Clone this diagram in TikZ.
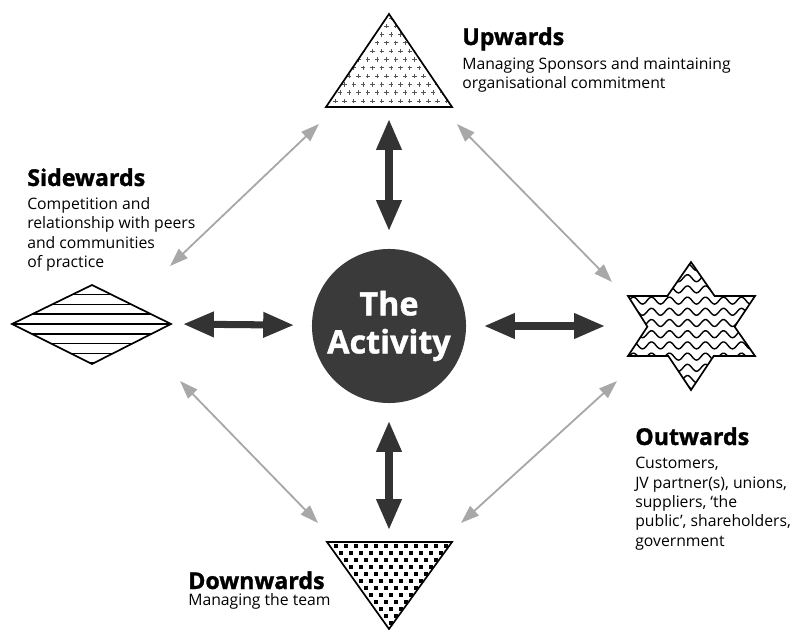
\documentclass[tikz,border=0pt]{standalone}
\usepackage{fontspec}
\setmainfont{Open Sans}[BoldFeatures={FakeBold=1.2}]
\usetikzlibrary{arrows.meta,positioning}
\definecolor{darkarr}{HTML}{333333}
\definecolor{actfill}{HTML}{3A3A3A}
\definecolor{lightarr}{HTML}{A8A8A8}
\definecolor{plusgray}{HTML}{555555}
\tikzset{
  shapeline/.style={line width=1.2pt, line join=miter},
  bigarr/.style={darkarr, line width=5pt, {Triangle[length=22pt,width=17pt]}-{Triangle[length=22pt,width=17pt]}, shorten <=12.5pt, shorten >=8.5pt},
  thinarr/.style={lightarr, line width=1.3pt, {Triangle[length=13pt,width=9pt]}-{Triangle[length=13pt,width=9pt]}},
  headtext/.style={font=\fontsize{16.5}{20}\selectfont\bfseries, anchor=base west, inner sep=0pt},
  bodytext/.style={font=\fontsize{11.2}{13.8}\selectfont, align=left, anchor=north west, inner sep=0pt},
}
\begin{document}
\begin{tikzpicture}[x=0.025cm, y=-0.025cm]
                \useasboundingbox (0,0) rectangle (790,630);
                \begin{scope}
                  \clip (326,107) -- (452,107) -- (389,14) -- cycle;
                  \foreach \j in {0,...,11} \foreach \i in {0,...,14}
                    \draw [plusgray, line width=0.6pt] ({326+9.3*\i+4.65*mod(\j,2)-2.2}, {18+8.3*\j}) -- ++(4.4,0) ({326+9.3*\i+4.65*mod(\j,2)}, {18+8.3*\j-2.2}) -- ++(0,4.4);
                \end{scope}
                \draw [shapeline] (326,107) -- (452,107) -- (389,14) -- cycle;
                \begin{scope}
                  \clip (12,324) -- (92,285) -- (171,324) -- (92,364) -- cycle;
                  \foreach \k in {-4,...,4}
                    \draw [line width=1.1pt] (0,{324+9.8*\k}) -- (190,{324+9.8*\k});
                \end{scope}
                \draw [shapeline] (12,324) -- (92,285) -- (171,324) -- (92,364) -- cycle;
                \begin{scope}
                  \clip (691,262) -- (714.6,296) -- (755,296) -- (734.6,326.7) -- (755,356) -- (713.7,356) -- (691,390) -- (668.3,356) -- (628,356) -- (647.4,326.7) -- (628,296) -- (667.4,296) -- cycle;
                  \foreach \k in {0,...,11}
                    \draw [line width=1pt] plot [domain=0:145, samples=90, smooth] ({620+\x}, {267+11.2*\k+3.5*sin(20*\x)});
                \end{scope}
                \draw [shapeline] (691,262) -- (714.6,296) -- (755,296) -- (734.6,326.7) -- (755,356) -- (713.7,356) -- (691,390) -- (668.3,356) -- (628,356) -- (647.4,326.7) -- (628,296) -- (667.4,296) -- cycle;
                \begin{scope}
                  \clip (327,542) -- (452,542) -- (389,629) -- cycle;
                  \foreach \j in {0,...,13} \foreach \i in {0,...,14}
                    \fill ({326+10*\i+5*mod(\j,2)-1.6}, {546+7*\j-1.6}) rectangle ++(3.2,3.2);
                \end{scope}
                \draw [shapeline] (327,542) -- (452,542) -- (389,629) -- cycle;
                \node [circle, fill=actfill, minimum size=3.85cm, inner sep=0pt, text=white, align=center, font=\fontsize{23}{27}\selectfont\bfseries] (act) at (389,326) {The\\Activity};
                \coordinate (up) at (389,107);
                \coordinate (side) at (171,324);
                \coordinate (out) at (617,326);
                \coordinate (down) at (389,542);
                \draw [bigarr] (act) -- (up);
                \draw [bigarr] (act) -- (side);
                \draw [bigarr] (act) -- (out);
                \draw [bigarr] (act) -- (down);
                \coordinate (sideUL) at (170,266);
                \coordinate (upL) at (319,124);
                \coordinate (upR) at (457,124);
                \coordinate (outUL) at (612,282);
                \coordinate (sideLL) at (180,381);
                \coordinate (downL) at (318,523);
                \coordinate (downR) at (461,523);
                \coordinate (outLL) at (617,381);
                \draw [thinarr] (sideUL) -- (upL);
                \draw [thinarr] (upR) -- (outUL);
                \draw [thinarr] (sideLL) -- (downL);
                \draw [thinarr] (downR) -- (outLL);
                \node [headtext] (upH) at (462,45) {Upwards};
                \node [bodytext] (upT) at (462,57) {Managing Sponsors and maintaining\\organisational commitment};
                \node [headtext] (sideH) at (27,186) {Sidewards};
                \node [bodytext] (sideT) at (27,197) {Competition and\\relationship with peers\\and communities\\of practice};
                \node [headtext] (outH) at (635,445) {Outwards};
                \node [bodytext] (outT) at (635,457) {Customers,\\JV partner(s), unions,\\suppliers, `the\\public', shareholders,\\government};
                \node [headtext] (downH) at (188,589) {Downwards};
                \node [bodytext] (downT) at (188,593) {Managing the team};
            \end{tikzpicture}
\end{document}
